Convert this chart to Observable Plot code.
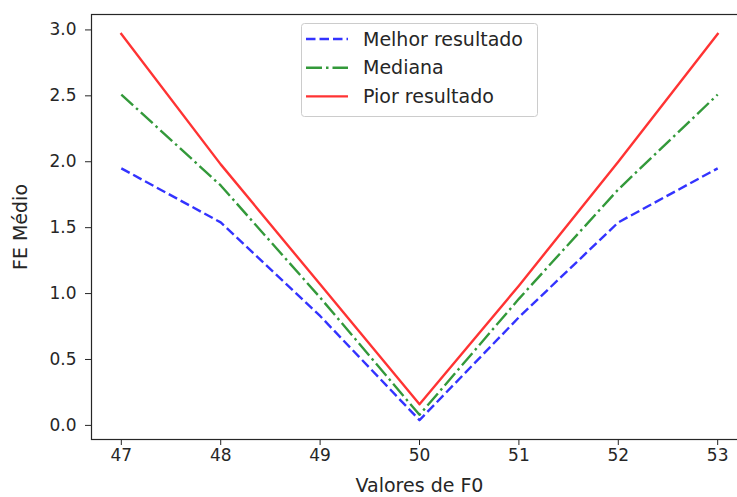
<!DOCTYPE html>
<html>
<head>
<meta charset="utf-8">
<script src="https://cdn.jsdelivr.net/npm/d3@7"></script>
<script src="https://cdn.jsdelivr.net/npm/@observablehq/plot@0.6"></script>
<style>
  body { margin: 0; background: #fff; }
  #chart { position: relative; width: 737px; height: 497px; overflow: hidden; }
</style>
</head>
<body>
<div id="chart"></div>
<script>
// F0 values on the x axis
const f0Values = [47, 48, 49, 50, 51, 52, 53];
// Mean FE for each series
const melhor = [1.95, 1.54, 0.83, 0.04, 0.82, 1.54, 1.95];
const mediana = [2.51, 1.82, 0.97, 0.08, 0.96, 1.79, 2.51];
const pior = [2.97, 1.98, 1.07, 0.16, 1.06, 2.00, 2.97];
const seriesNames = ["Melhor resultado", "Mediana", "Pior resultado"];
const yTicks = [0, 0.5, 1, 1.5, 2, 2.5, 3];

// Line styling per series
const seriesStyle = {
  "Melhor resultado": { stroke: "#3333ff", dash: "9.5,4" },
  "Mediana": { stroke: "#33993a", dash: "16,4,2.5,4" },
  "Pior resultado": { stroke: "#ff3333", dash: null }
};

const seriesValues = [melhor, mediana, pior];
const rows = seriesNames.flatMap((name, i) =>
  f0Values.map((x, j) => ({ series: name, x, y: seriesValues[i][j] }))
);

const ink = "#262626";
const tickFont = 17;
const labelFont = 19;

const chart = Plot.plot({
  width: 737,
  height: 497,
  marginLeft: 91,
  marginRight: -10,
  marginTop: 14,
  marginBottom: 58,
  style: { fontFamily: "DejaVu Sans", fontSize: tickFont + "px", color: ink, background: "#fff", overflow: "visible" },
  x: { domain: [46.7, 53.3] },
  y: { domain: [-0.107, 3.117] },
  marks: [
    ...seriesNames.map(name => Plot.line(rows.filter(d => d.series === name), {
      x: "x", y: "y",
      stroke: seriesStyle[name].stroke,
      strokeWidth: 2.4,
      strokeDasharray: seriesStyle[name].dash,
      strokeLinecap: seriesStyle[name].dash ? "butt" : "square"
    })),
    Plot.axisX({
      ticks: f0Values, tickFormat: d => String(d), tickSize: 6, tickPadding: 3,
      label: "Valores de F0", labelAnchor: "center", labelArrow: "none", labelOffset: 52, stroke: ink
    }),
    Plot.axisY({
      ticks: yTicks, tickFormat: d3.format(".1f"), tickSize: 6, tickPadding: 9,
      label: "FE Médio", labelAnchor: "center", labelArrow: "none", labelOffset: 78, stroke: ink
    }),
    Plot.frame({ stroke: ink, strokeWidth: 1.2 })
  ]
});

document.getElementById("chart").appendChild(chart);

const svg = d3.select(chart);
// Axis titles are set slightly larger than the tick labels
svg.selectAll('g[aria-label="x-axis label"], g[aria-label="y-axis label"]').attr("font-size", labelFont);

// Legend box in the upper centre of the axes
const legend = svg.append("g")
  .attr("font-family", "DejaVu Sans")
  .attr("font-size", labelFont)
  .attr("text-anchor", "start");
legend.append("rect")
  .attr("x", 301.5).attr("y", 23.5).attr("width", 236).attr("height", 93)
  .attr("rx", 3).attr("fill", "#fff").attr("fill-opacity", 0.8)
  .attr("stroke", "#cccccc").attr("stroke-width", 1);
seriesNames.forEach((name, i) => {
  const cy = 39 + i * 28.7;
  legend.append("line")
    .attr("x1", 306).attr("x2", 348).attr("y1", cy).attr("y2", cy)
    .attr("stroke", seriesStyle[name].stroke).attr("stroke-width", 2.4)
    .attr("stroke-dasharray", seriesStyle[name].dash);
  legend.append("text")
    .attr("x", 363).attr("y", cy).attr("dy", "0.35em")
    .attr("fill", ink).text(name);
});
</script>
</body>
</html>
